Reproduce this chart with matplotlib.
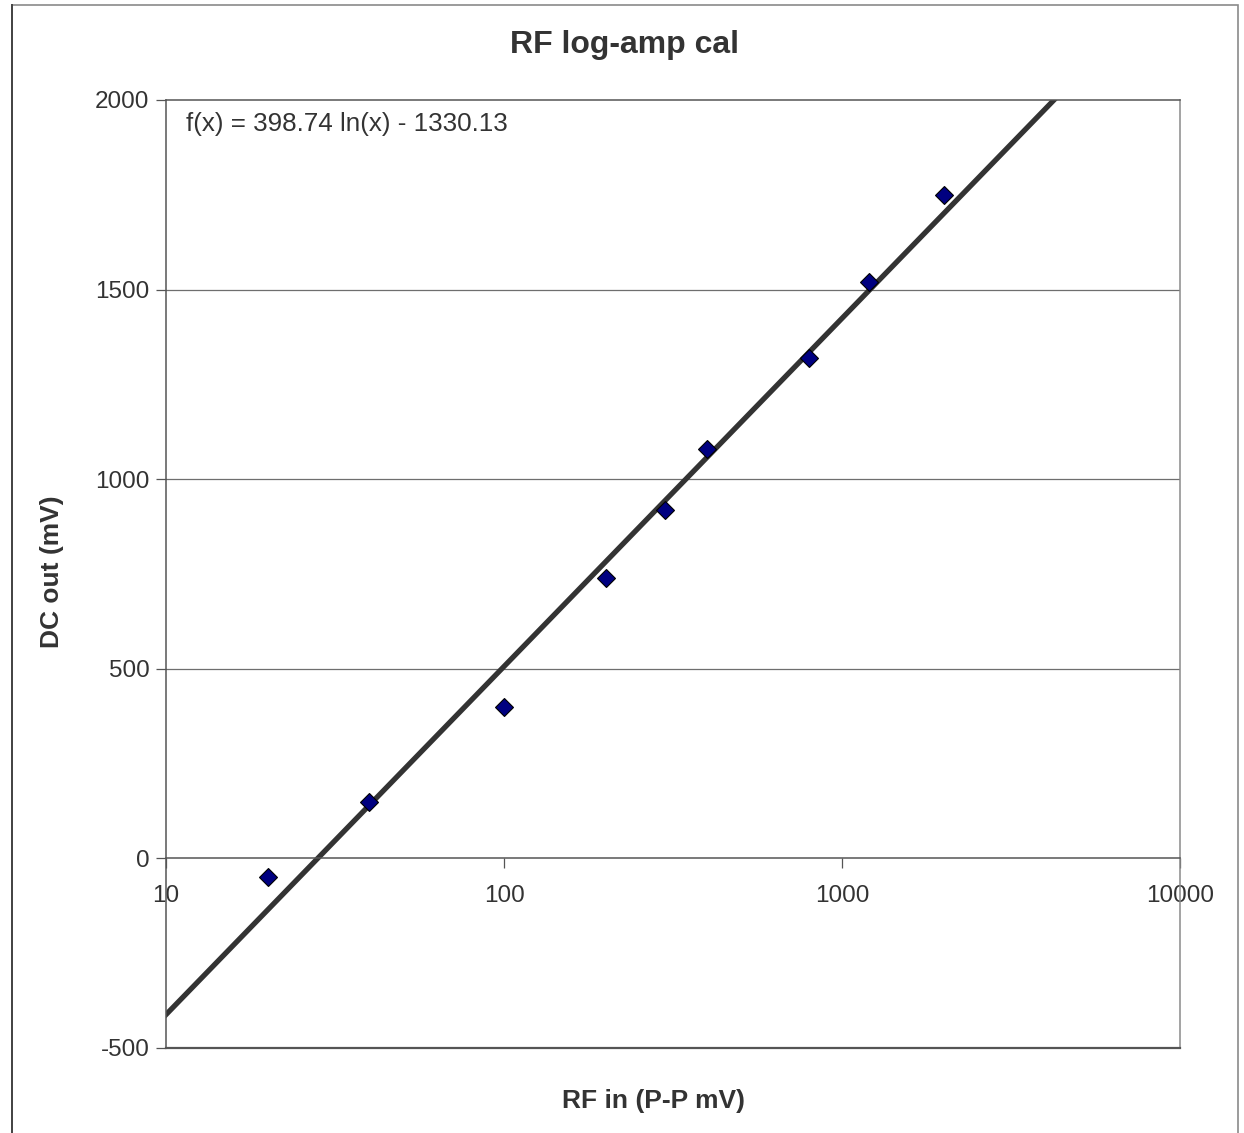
import numpy as np
import matplotlib as mpl

mpl.use("Agg")
import matplotlib.pyplot as plt
from matplotlib.patches import Rectangle

mpl.rcParams.update({"font.family": ["Liberation Sans", "DejaVu Sans"], "font.size": 17.5,
                     "axes.unicode_minus": False})

# measured calibration points
rf_in = [20, 40, 100, 200, 300, 400, 800, 1200, 2000]
dc_out = [-50, 150, 400, 740, 920, 1080, 1320, 1520, 1750]

# logarithmic trend line from the chart
fit_a, fit_b = 398.74, -1330.13
fit_label = "f(x) = 398.74 ln(x) - 1330.13"

y_ticks = [-500, 0, 500, 1000, 1500, 2000]
x_ticks = [10, 100, 1000, 10000]

W, H = 1244, 1133
fig = plt.figure(figsize=(W / 100, H / 100), dpi=100, facecolor="white")
ax = fig.add_axes([166 / W, 1 - 1048 / H, (1180 - 166) / W, (1048 - 100) / H])

# outer chart frame
fig.patches.append(Rectangle((12 / W, -0.1), (1238 - 12) / W, 1 - 5 / H + 0.1,
                             transform=fig.transFigure, fill=False,
                             edgecolor="#8a8a8a", lw=1.2))
fig.add_artist(plt.Line2D([12 / W, 12 / W], [0, 1 - 5 / H], transform=fig.transFigure,
                          color="#444444", lw=1.4))

ax.set_xscale("log")
ax.set_xlim(10, 10000)
ax.set_ylim(-500, 2000)

for y in (500, 1000, 1500):
    ax.axhline(y, color="#6e6e6e", lw=0.9, zorder=0)

xf = np.logspace(1, 4, 200)
ax.plot(xf, fit_a * np.log(xf) + fit_b, color="#333333", lw=3.8, zorder=2)
ax.plot(rf_in, dc_out, ls="", marker="D", ms=9, mfc="#000080", mec="#000000",
        mew=0.8, zorder=3)

# fit equation, placed in pixel coords
ax.text(186, H - 124, fit_label, transform=mpl.transforms.IdentityTransform(),
        fontsize=18.7, color="#333333", va="center", ha="left")

ax.set_yticks(y_ticks)
ax.set_xticks(x_ticks)
ax.set_xticklabels([str(v) for v in x_ticks])
ax.xaxis.set_minor_locator(mpl.ticker.NullLocator())
ax.tick_params(axis="y", direction="out", length=7, width=0.9, color="#555555",
               labelsize=17.5, labelcolor="#333333", pad=5)
ax.tick_params(axis="x", direction="out", length=7, width=0.9, color="#555555",
               labelsize=17.5, labelcolor="#333333", pad=12)

ax.spines["bottom"].set_position(("data", 0))
for s in ax.spines.values():
    s.set_color("#555555")
    s.set_linewidth(1.1)
ax.spines["right"].set_color("#8a8a8a")
ax.axhline(-500, color="#555555", lw=1.6, clip_on=False, zorder=4)

fig.text(625 / W, 1 - 45 / H, "RF log-amp cal", ha="center", va="center",
         fontsize=23, fontweight="bold", color="#333333")
fig.text(653 / W, 1 - 1101 / H, "RF in (P-P mV)", ha="center", va="center",
         fontsize=19, fontweight="bold", color="#333333")
fig.text(52 / W, 1 - 572 / H, "DC out (mV)", ha="center", va="center",
         rotation=90, fontsize=19, fontweight="bold", color="#333333")

fig.savefig("out.png", dpi=100, facecolor="white")
